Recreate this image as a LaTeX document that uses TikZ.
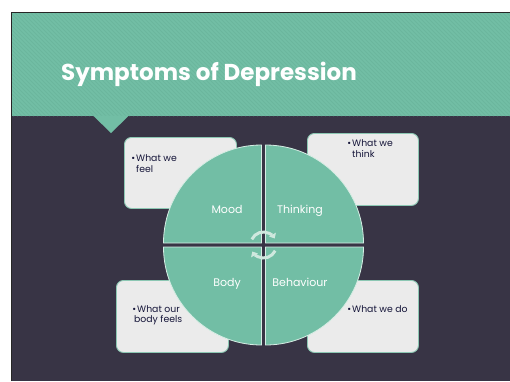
\documentclass[tikz,border=0pt]{standalone}
\usepackage{fontspec}
\setmainfont{Poppins}
\usetikzlibrary{arrows.meta}
\definecolor{bgdark}{HTML}{383445}
\definecolor{tealc}{HTML}{72BEA5}
\definecolor{stripec}{HTML}{6BB69D}
\definecolor{boxfill}{HTML}{EBEBEB}
\definecolor{boxline}{HTML}{8CC7B3}
\definecolor{arrowc}{HTML}{CFE8DE}
\definecolor{quadline}{HTML}{D6EDE4}
\definecolor{textdark}{HTML}{16163A}
\begin{document}
\begin{tikzpicture}[x=1pt,y=-1pt,
  infobox/.style={draw=boxline, line width=0.9pt, fill=boxfill, rounded corners=7pt,
    anchor=north west, inner sep=0pt},
  quad/.style={fill=tealc, draw=quadline, line width=0.8pt},
  small/.style={font=\fontsize{9.3}{11}\selectfont, text=textdark, inner sep=0pt, anchor=base west},
  qlabel/.style={font=\fontsize{11}{13}\selectfont, text=white, inner sep=0pt, anchor=base},
  cyc/.style={draw=arrowc, line width=3pt, -{Triangle[width=7.5pt,length=4.5pt]}},
  ]
\useasboundingbox (0,0) rectangle (510,381);
\fill[white] (0,0) rectangle (510,381);
\fill[bgdark] (11,12) rectangle (510,381);
% header
\begin{scope}
  \clip (11.5,12.5) rectangle (510,116);
  \fill[tealc] (0,0) rectangle (510,116);
  \foreach \i in {-110,-106,...,510} \draw[stripec, line width=1pt] (\i,12) -- ++(104,104);
\end{scope}
\fill[tealc] (93,115.5) -- (129,115.5) -- (111,133) -- cycle;
\draw[line width=1pt, black!85] (11.5,381) -- (11.5,12.5) -- (510,12.5);
\node[font=\fontsize{23}{27}\selectfont\bfseries, text=white, inner sep=0pt, anchor=base west] (title) at (61,80) {Symptoms of Depression};
% boxes
\node[infobox, minimum width=112pt, minimum height=71pt] (feelbox) at (124,137) {};
\node[infobox, minimum width=111pt, minimum height=72pt] (thinkbox) at (307,133) {};
\node[infobox, minimum width=112pt, minimum height=72pt] (bodybox) at (116,280) {};
\node[infobox, minimum width=111pt, minimum height=72pt] (dobox) at (307,280) {};
% quadrants
\coordinate (hub) at (263.5,245);
\filldraw[quad] (261.5,243) -- ++(-98,0) arc[start angle=180, end angle=270, radius=98] -- cycle;
\filldraw[quad] (265.5,243) -- ++(0,-98) arc[start angle=270, end angle=360, radius=98] -- cycle;
\filldraw[quad] (265.5,247) -- ++(98,0) arc[start angle=0, end angle=90, radius=98] -- cycle;
\filldraw[quad] (261.5,247) -- ++(0,98) arc[start angle=90, end angle=180, radius=98] -- cycle;
% cycle arrows
\draw[cyc] ([shift={(206:13)}]hub) arc[start angle=206, end angle=330, radius=13];
\draw[cyc] ([shift={(26:13)}]hub) arc[start angle=26, end angle=150, radius=13];
% quadrant labels
\node[qlabel] (mood) at (227,213) {Mood};
\node[qlabel] (thinking) at (300,213) {Thinking};
\node[qlabel] (body) at (227,286) {Body};
\node[qlabel] (behaviour) at (300,286) {Behaviour};
% box texts
\node[small, anchor=base east] (b1) at (135.5,161) {•};
\node[small] (feelA) at (136,161) {What we};
\node[small] (feelB) at (136,172) {feel};
\node[small, anchor=base east] (b2) at (351.5,146) {•};
\node[small] (thinkA) at (352,146) {What we};
\node[small] (thinkB) at (352,157) {think};
\node[small, anchor=base east] (b3) at (136.5,312) {•};
\node[small] (bodyA) at (137,312) {What our};
\node[small] (bodyB) at (134,322) {body feels};
\node[small, anchor=base east] (b4) at (351.5,312) {•};
\node[small] (doA) at (352,312) {What we do};
\end{tikzpicture}
\end{document}
